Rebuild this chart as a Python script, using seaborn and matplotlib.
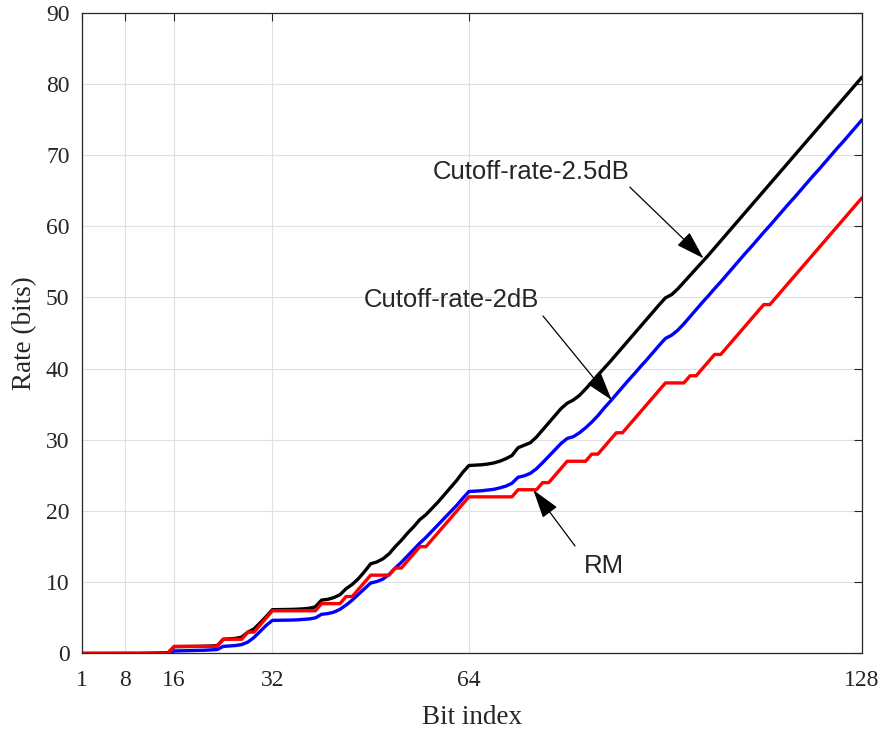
import matplotlib
matplotlib.use("Agg")
import matplotlib.pyplot as plt
import seaborn as sns
import pandas as pd

# ---------------- data ----------------
bit_index = list(range(1, 129))

rate_cutoff_25db = [
    0, 0, 0, 0, 0, 0, 0, 0.01, 0.01, 0.01, 0.02, 0.03, 0.04, 0.06, 0.09, 0.95,
    0.96, 0.97, 0.98, 1.0, 1.02, 1.05, 1.1, 2.0, 2.05, 2.12, 2.3, 3.0, 3.45, 4.3, 5.2, 6.15,
    6.16, 6.17, 6.19, 6.22, 6.27, 6.35, 6.55, 7.5, 7.6, 7.85, 8.25, 9.1, 9.7, 10.5, 11.5, 12.6,
    12.85, 13.3, 14.0, 15.0, 15.9, 16.9, 17.8, 18.8, 19.5, 20.4, 21.3, 22.3, 23.3, 24.3, 25.45, 26.4,
    26.45, 26.5, 26.6, 26.75, 27.0, 27.35, 27.8, 28.9, 29.25, 29.6, 30.4, 31.4, 32.4, 33.4, 34.4, 35.15,
    35.6, 36.25, 37.15, 38.1, 39.1, 40.05, 41.0, 42.0, 43.0, 44.0, 45.0, 46.0, 47.0, 48.0, 49.0, 49.95,
    50.4, 51.2, 52.15, 53.1, 54.05, 55.0, 55.95, 56.95, 57.95, 58.95, 59.95, 60.95, 61.95, 62.95, 63.95, 64.95,
    65.95, 66.95, 67.95, 68.95, 69.95, 70.95, 71.95, 72.95, 73.95, 74.95, 75.95, 76.95, 77.95, 78.95, 79.95, 80.95,
]

rate_cutoff_2db = [
    0, 0, 0, 0, 0, 0, 0, 0, 0, 0, 0.01, 0.01, 0.02, 0.03, 0.05, 0.35,
    0.37, 0.39, 0.41, 0.43, 0.46, 0.5, 0.55, 1.0, 1.05, 1.12, 1.25, 1.6, 2.25, 3.1, 3.95, 4.65,
    4.66, 4.67, 4.69, 4.72, 4.78, 4.85, 5.0, 5.5, 5.6, 5.8, 6.2, 6.8, 7.5, 8.3, 9.1, 9.9,
    10.1, 10.45, 11.1, 12.0, 12.8, 13.7, 14.6, 15.5, 16.3, 17.2, 18.1, 19.0, 19.9, 20.8, 21.8, 22.75,
    22.8, 22.85, 22.95, 23.05, 23.25, 23.5, 23.9, 24.75, 24.95, 25.3, 25.95, 26.8, 27.7, 28.6, 29.5, 30.2,
    30.45, 31.0, 31.7, 32.5, 33.4, 34.45, 35.4, 36.4, 37.4, 38.4, 39.35, 40.35, 41.3, 42.3, 43.3, 44.25,
    44.7, 45.4, 46.3, 47.3, 48.3, 49.3, 50.25, 51.25, 52.2, 53.2, 54.2, 55.2, 56.2, 57.15, 58.15, 59.15,
    60.1, 61.1, 62.1, 63.1, 64.05, 65.05, 66.05, 67.05, 68.0, 69.0, 70.0, 71.0, 71.95, 72.95, 73.95, 74.95,
]

rate_rm = [
    0, 0, 0, 0, 0, 0, 0, 0, 0, 0, 0, 0, 0, 0, 0, 1,
    1, 1, 1, 1, 1, 1, 1, 2, 2, 2, 2, 3, 3, 4, 5, 6,
    6, 6, 6, 6, 6, 6, 6, 7, 7, 7, 7, 8, 8, 9, 10, 11,
    11, 11, 11, 12, 12, 13, 14, 15, 15, 16, 17, 18, 19, 20, 21, 22,
    22, 22, 22, 22, 22, 22, 22, 23, 23, 23, 23, 24, 24, 25, 26, 27,
    27, 27, 27, 28, 28, 29, 30, 31, 31, 32, 33, 34, 35, 36, 37, 38,
    38, 38, 38, 39, 39, 40, 41, 42, 42, 43, 44, 45, 46, 47, 48, 49,
    49, 50, 51, 52, 53, 54, 55, 56, 57, 58, 59, 60, 61, 62, 63, 64,
]

series_names = ["Cutoff-rate-2.5dB", "Cutoff-rate-2dB", "RM"]
series_colors = ["#000000", "#0000FF", "#FF0000"]

x_ticks = [1, 8, 16, 32, 64, 128]
y_ticks = [0, 10, 20, 30, 40, 50, 60, 70, 80, 90]

# ---------------- style ----------------
sns.set_theme(style="whitegrid")
plt.rcParams["font.family"] = ["Liberation Serif", "DejaVu Serif"]
plt.rcParams["axes.edgecolor"] = "#262626"

fig = plt.figure(figsize=(8.85, 7.29), dpi=100)
ax = fig.add_axes([0.0927, 0.1036, 0.8813, 0.8790])
ax.set_facecolor("white")

frames = []
for name, vals in zip(series_names, [rate_cutoff_25db, rate_cutoff_2db, rate_rm]):
    frames.append(pd.DataFrame({"Bit index": bit_index, "Rate (bits)": vals, "series": name}))
df = pd.concat(frames, ignore_index=True)

for name, col in zip(series_names, series_colors):
    sns.lineplot(data=df[df["series"] == name], x="Bit index", y="Rate (bits)",
                 color=col, linewidth=2.4, ax=ax, legend=False)

ax.set_xlim(1, 128)
ax.set_ylim(0, 90)
ax.set_xticks(x_ticks)
ax.set_yticks(y_ticks)
ax.grid(True, color="#e0e0e0", linewidth=0.8)
ax.tick_params(direction="in", length=6, width=0.8, top=True, right=True,
               labelsize=17, colors="#262626")
ax.tick_params(axis="x", pad=12)
ax.tick_params(axis="y", pad=9)
for lbl in ax.get_xticklabels() + ax.get_yticklabels():
    lbl.set_color("#262626")
for sp in ax.spines.values():
    sp.set_visible(True)
    sp.set_color("#262626")
    sp.set_linewidth(0.9)

ax.set_xlabel("Bit index", fontsize=19.5, color="#262626", labelpad=10)
ax.set_ylabel("Rate (bits)", fontsize=19.5, color="#262626", labelpad=6)

# ---------------- annotations ----------------
sans = ["Liberation Sans", "DejaVu Sans"]
arrow_kw = dict(arrowstyle="-|>,head_length=0.9,head_width=0.28", color="black",
                lw=0.9, shrinkA=0, shrinkB=0, mutation_scale=20)

ax.text(74.1, 67.6, "Cutoff-rate-2.5dB", fontsize=18.5, family=sans, ha="center", va="center")
ax.annotate("", xy=(102.2, 55.5), xytext=(90.2, 65.5), arrowprops=arrow_kw)

ax.text(61.1, 49.65, "Cutoff-rate-2dB", fontsize=18.5, family=sans, ha="center", va="center")
ax.annotate("", xy=(87.24, 35.6), xytext=(76.06, 47.4), arrowprops=arrow_kw)

ax.text(86.0, 12.3, "RM", fontsize=18.5, family=sans, ha="center", va="center")
ax.annotate("", xy=(74.48, 22.96), xytext=(81.27, 15.1), arrowprops=arrow_kw)

fig.savefig("out.png", dpi=100, facecolor="white")
